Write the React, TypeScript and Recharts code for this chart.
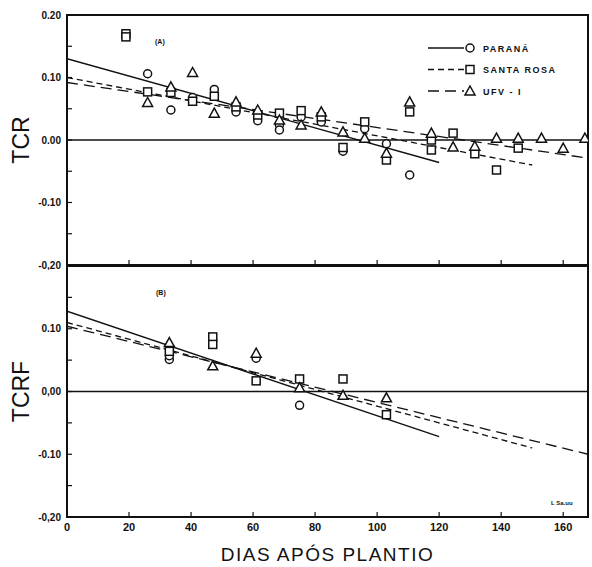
import {
  ComposedChart,
  Scatter,
  Line,
  XAxis,
  YAxis,
  ReferenceLine,
  ReferenceArea,
  Legend,
  Label,
} from "recharts";

const INK = "#111";
const FONT = "'Liberation Sans', Arial, sans-serif";

const DAY_TICKS = [0, 20, 40, 60, 80, 100, 120, 140, 160];
const Y_TICKS = [-0.2, -0.15, -0.1, -0.05, 0, 0.05, 0.1, 0.15, 0.2];
const TCR_LABELS = ["-0,20", "", "-0.10", "", "0.00", "", "0.10", "", "0.20"];
const TCRF_LABELS = ["-0,20", "", "-0.10", "", "0,00", "", "0.10", "", ""];

// (A) TCR points
const PARANA_A = [
  { x: 26, y: 0.106 }, { x: 33.5, y: 0.048 }, { x: 40.5, y: 0.068 },
  { x: 47.5, y: 0.081 }, { x: 54.5, y: 0.045 }, { x: 61.5, y: 0.031 },
  { x: 68.5, y: 0.024 }, { x: 68.5, y: 0.016 }, { x: 75.5, y: 0.037 },
  { x: 82, y: 0.029 }, { x: 89, y: -0.018 }, { x: 96, y: 0.018 },
  { x: 103, y: -0.006 }, { x: 110.5, y: -0.056 },
];
const SANTA_ROSA_A = [
  { x: 19, y: 0.17 }, { x: 19, y: 0.165 }, { x: 26, y: 0.077 },
  { x: 33.5, y: 0.076 }, { x: 40.5, y: 0.062 }, { x: 47.5, y: 0.07 },
  { x: 54.5, y: 0.053 }, { x: 61.5, y: 0.04 }, { x: 68.5, y: 0.043 },
  { x: 75.5, y: 0.047 }, { x: 82, y: 0.037 }, { x: 89, y: -0.012 },
  { x: 96, y: 0.029 }, { x: 103, y: -0.032 }, { x: 110.5, y: 0.045 },
  { x: 117.5, y: 0.0 }, { x: 117.5, y: -0.016 }, { x: 124.5, y: 0.011 },
  { x: 131.5, y: -0.022 }, { x: 138.5, y: -0.048 }, { x: 145.5, y: -0.013 },
];
const UFV_A = [
  { x: 26, y: 0.06 }, { x: 33.5, y: 0.085 }, { x: 40.5, y: 0.108 },
  { x: 47.5, y: 0.043 }, { x: 54.5, y: 0.061 }, { x: 61.5, y: 0.048 },
  { x: 68.5, y: 0.032 }, { x: 75.5, y: 0.024 }, { x: 82, y: 0.045 },
  { x: 89, y: 0.013 }, { x: 96, y: 0.003 }, { x: 103, y: -0.021 },
  { x: 110.5, y: 0.061 }, { x: 117.5, y: 0.011 }, { x: 124.5, y: -0.011 },
  { x: 131.5, y: -0.01 }, { x: 138.5, y: 0.003 }, { x: 145.5, y: 0.003 },
  { x: 153, y: 0.003 }, { x: 160, y: -0.013 }, { x: 167, y: 0.003 },
];
const PARANA_FIT_A = [{ x: 0, y: 0.13 }, { x: 120, y: -0.036 }];
const SANTA_ROSA_FIT_A = [{ x: 0, y: 0.1 }, { x: 150, y: -0.04 }];
const UFV_FIT_A = [{ x: 0, y: 0.092 }, { x: 168, y: -0.029 }];

// (B) TCRF points
const PARANA_B = [
  { x: 33, y: 0.051 }, { x: 33, y: 0.057 }, { x: 61, y: 0.053 },
  { x: 75, y: -0.022 },
];
const SANTA_ROSA_B = [
  { x: 33, y: 0.064 }, { x: 47, y: 0.087 }, { x: 47, y: 0.075 },
  { x: 61, y: 0.017 }, { x: 75, y: 0.02 }, { x: 89, y: 0.02 },
  { x: 103, y: -0.037 },
];
const UFV_B = [
  { x: 33, y: 0.078 }, { x: 47, y: 0.041 }, { x: 61, y: 0.061 },
  { x: 75, y: 0.006 }, { x: 89, y: -0.006 }, { x: 103, y: -0.01 },
];
const PARANA_FIT_B = [{ x: 0, y: 0.128 }, { x: 120, y: -0.072 }];
const SANTA_ROSA_FIT_B = [{ x: 0, y: 0.11 }, { x: 150, y: -0.09 }];
const UFV_FIT_B = [{ x: 0, y: 0.104 }, { x: 168, y: -0.1 }];

const LEGEND_NAMES = ["PARANÁ", "SANTA ROSA", "UFV - I"];
const DASHES = [undefined, "6 4", "11 6"];

function CircleMark(p: any) {
  if (p.cx == null) return null;
  return <circle cx={p.cx} cy={p.cy} r={4} fill="#fff" stroke={INK} strokeWidth={1.5} />;
}
function SquareMark(p: any) {
  if (p.cx == null) return null;
  return <rect x={p.cx - 4} y={p.cy - 4} width={8} height={8} fill="#fff" stroke={INK} strokeWidth={1.5} />;
}
function TriangleMark(p: any) {
  if (p.cx == null) return null;
  const { cx, cy } = p;
  return (
    <path
      d={`M${cx},${cy - 5} L${cx + 5},${cy + 4} L${cx - 5},${cy + 4} Z`}
      fill="#fff"
      stroke={INK}
      strokeWidth={1.5}
    />
  );
}
const MARKS = [CircleMark, SquareMark, TriangleMark];

function LegendBox() {
  return (
    <svg width={160} height={66}>
      {LEGEND_NAMES.map((name, i) => {
        const y = 10 + i * 21.5;
        const Mark = MARKS[i];
        return (
          <g key={name}>
            <line x1={8} x2={44} y1={y} y2={y} stroke={INK} strokeWidth={1.3} strokeDasharray={DASHES[i]} />
            <Mark cx={50} cy={y} />
            <text x={63} y={y + 3.5} fontSize={9} fontWeight="bold" letterSpacing={1.5} fill={INK} fontFamily={FONT}>
              {name}
            </text>
          </g>
        );
      })}
    </svg>
  );
}

function labelFor(labels: string[], v: number) {
  const i = Y_TICKS.findIndex((t) => Math.abs(t - v) < 1e-6);
  return i >= 0 ? labels[i] : "";
}

type PanelProps = {
  height: number;
  margin: { top: number; right: number; bottom: number; left: number };
  xHeight: number;
  yTitle: string;
  yLabels: string[];
  showDays: boolean;
  parana: { x: number; y: number }[];
  santaRosa: { x: number; y: number }[];
  ufv: { x: number; y: number }[];
  fits: { x: number; y: number }[][];
  legend: boolean;
};

function Panel(props: PanelProps) {
  const { parana, santaRosa, ufv, fits } = props;
  return (
    <ComposedChart width={592} height={props.height} margin={props.margin}>
      <XAxis
        type="number"
        dataKey="x"
        domain={[0, 168]}
        ticks={DAY_TICKS}
        interval={0}
        allowDataOverflow
        height={props.xHeight}
        tickSize={-5}
        tickMargin={11}
        tickFormatter={(v: number) => (props.showDays ? String(v) : "")}
        tick={{ fill: INK, fontSize: 11, fontWeight: "bold", fontFamily: FONT }}
        axisLine={{ stroke: INK, strokeWidth: 2 }}
        tickLine={{ stroke: INK, strokeWidth: 1.2 }}
      >
        {props.showDays && (
          <Label
            value="DIAS APÓS PLANTIO"
            position="insideBottom"
            offset={6}
            style={{ fill: INK, fontSize: 19, letterSpacing: 1.5, fontFamily: FONT }}
          />
        )}
      </XAxis>
      <YAxis
        type="number"
        dataKey="y"
        domain={[-0.2, 0.2]}
        ticks={Y_TICKS}
        interval={0}
        allowDataOverflow
        width={67}
        tickSize={-5}
        tickMargin={11}
        tickFormatter={(v: number) => labelFor(props.yLabels, v)}
        tick={{ fill: INK, fontSize: 10, fontWeight: "bold", fontFamily: FONT }}
        axisLine={{ stroke: INK, strokeWidth: 2 }}
        tickLine={{ stroke: INK, strokeWidth: 1.2 }}
      >
        <Label
          value={props.yTitle}
          angle={-90}
          position="center"
          dx={-13}
          style={{ fill: INK, fontSize: 23, fontFamily: FONT }}
        />
      </YAxis>
      <ReferenceArea x1={0} x2={168} y1={-0.2} y2={0.2} fill="none" stroke={INK} strokeWidth={2} />
      <ReferenceLine y={0} stroke={INK} strokeWidth={1.4} />
      <Line data={fits[0]} dataKey="y" type="linear" stroke={INK} strokeWidth={1.4} dot={false} isAnimationActive={false} />
      <Line data={fits[1]} dataKey="y" type="linear" stroke={INK} strokeWidth={1.3} strokeDasharray={DASHES[1]} dot={false} isAnimationActive={false} />
      <Line data={fits[2]} dataKey="y" type="linear" stroke={INK} strokeWidth={1.3} strokeDasharray={DASHES[2]} dot={false} isAnimationActive={false} />
      <Scatter data={parana} dataKey="y" shape={CircleMark} isAnimationActive={false} />
      <Scatter data={santaRosa} dataKey="y" shape={SquareMark} isAnimationActive={false} />
      <Scatter data={ufv} dataKey="y" shape={TriangleMark} isAnimationActive={false} />
      {props.legend && (
        <Legend
          layout="vertical"
          align="center"
          verticalAlign="middle"
          content={() => <LegendBox />}
          wrapperStyle={{ position: "absolute", left: 420, top: 38, width: 160, height: 66 }}
        />
      )}
    </ComposedChart>
  );
}

export default function App() {
  return (
    <div
      style={{
        position: "absolute",
        left: 0,
        top: 0,
        width: 592,
        height: 567,
        background: "#fff",
        fontFamily: FONT,
      }}
    >
      <div style={{ position: "absolute", left: 0, top: 0 }}>
        <Panel
          height={270}
          margin={{ top: 15, right: 4, bottom: 0, left: 0 }}
          xHeight={5}
          yTitle="TCR"
          yLabels={TCR_LABELS}
          showDays={false}
          parana={PARANA_A}
          santaRosa={SANTA_ROSA_A}
          ufv={UFV_A}
          fits={[PARANA_FIT_A, SANTA_ROSA_FIT_A, UFV_FIT_A]}
          legend
        />
      </div>
      <div style={{ position: "absolute", left: 0, top: 266 }}>
        <Panel
          height={301}
          margin={{ top: 0, right: 4, bottom: 0, left: 0 }}
          xHeight={50}
          yTitle="TCRF"
          yLabels={TCRF_LABELS}
          showDays
          parana={PARANA_B}
          santaRosa={SANTA_ROSA_B}
          ufv={UFV_B}
          fits={[PARANA_FIT_B, SANTA_ROSA_FIT_B, UFV_FIT_B]}
          legend={false}
        />
      </div>
      <div style={{ position: "absolute", left: 155, top: 38, fontSize: 7, fontWeight: "bold", color: INK }}>(A)</div>
      <div style={{ position: "absolute", left: 156, top: 289, fontSize: 7, fontWeight: "bold", color: INK }}>(B)</div>
      <div style={{ position: "absolute", left: 551, top: 500, fontSize: 6, fontWeight: "bold", color: INK }}>L Sa.uu</div>
    </div>
  );
}
